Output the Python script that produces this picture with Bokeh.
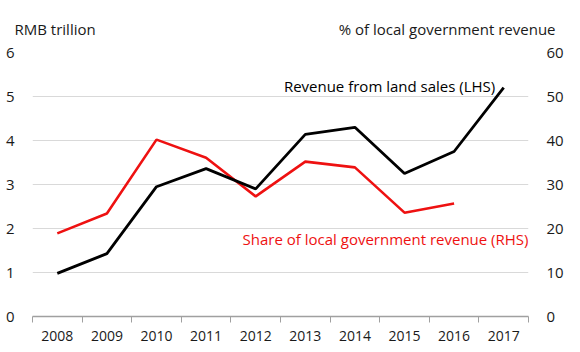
from bokeh.plotting import figure
from bokeh.models import Range1d, LinearAxis, FixedTicker, Label
from bokeh.layouts import column, row
from bokeh.embed import file_html
from bokeh.resources import INLINE

years = ["2008", "2009", "2010", "2011", "2012", "2013", "2014", "2015", "2016", "2017"]
land_revenue = [0.98, 1.43, 2.95, 3.36, 2.9, 4.14, 4.3, 3.25, 3.75, 5.2]
share_years = ["2008", "2009", "2010", "2011", "2012", "2013", "2014", "2015", "2016"]
share_revenue = [18.9, 23.4, 40.2, 36.1, 27.3, 35.2, 33.9, 23.6, 25.7]
lhs_ticks = [0, 1, 2, 3, 4, 5, 6]
rhs_ticks = [0, 10, 20, 30, 40, 50, 60]

FONT = "Open Sans"
TXT = "#1a1a1a"

pos = {y: i + 0.5 for i, y in enumerate(years)}
x_land = [pos[y] for y in years]
x_share = [pos[y] for y in share_years]

# header strip with the two axis unit captions (full-width frame, data x = screen px)
hdr = figure(width=580, height=40, output_backend="svg", toolbar_location=None,
             x_range=Range1d(0, 580), y_range=Range1d(0, 40),
             x_axis_location=None, y_axis_location=None,
             min_border_left=0, min_border_right=0, min_border_top=0, min_border_bottom=0)
hdr.outline_line_color = None
hdr.xgrid.visible = False
hdr.ygrid.visible = False
hdr.add_layout(Label(x=14, y=12, text="RMB trillion", text_align="left", text_baseline="middle",
                     text_font=FONT, text_font_size="15px", text_color=TXT))
hdr.add_layout(Label(x=555, y=12, text="% of local government revenue", text_align="right",
                     text_baseline="middle", text_font=FONT, text_font_size="15px", text_color=TXT))

p = figure(width=580, height=312, output_backend="svg", toolbar_location=None,
           x_range=Range1d(0, len(years)), y_range=Range1d(0, 6),
           min_border_left=32, min_border_right=52, min_border_top=12, min_border_bottom=36)
p.extra_y_ranges = {"rhs": Range1d(0, 60)}
p.outline_line_color = None
p.background_fill_color = "white"
p.border_fill_color = "white"

p.xaxis.ticker = FixedTicker(ticks=x_land, minor_ticks=list(range(len(years) + 1)))
p.xaxis.major_label_overrides = {pos[y]: y for y in years}
p.xaxis.major_tick_out = 0
p.xaxis.major_tick_in = 0
p.xaxis.minor_tick_out = 6
p.xaxis.minor_tick_in = 0
p.xaxis.minor_tick_line_color = "#a0a0a0"
p.xaxis.axis_line_color = "#a0a0a0"
p.xaxis.axis_line_width = 1.5
p.xaxis.major_label_text_font = FONT
p.xaxis.major_label_text_font_size = "14px"
p.xaxis.major_label_text_color = TXT
p.xaxis.major_label_standoff = 8
p.xgrid.visible = False

p.yaxis.ticker = FixedTicker(ticks=lhs_ticks)
p.yaxis.axis_line_color = None
p.yaxis.major_tick_line_color = None
p.yaxis.minor_tick_line_color = None
p.yaxis.major_label_text_font = FONT
p.yaxis.major_label_text_font_size = "15px"
p.yaxis.major_label_text_color = TXT
p.yaxis.major_label_standoff = 12
p.ygrid.ticker = FixedTicker(ticks=lhs_ticks[1:])
p.ygrid.grid_line_color = "#d9d9d9"
p.ygrid.grid_line_width = 1

rax = LinearAxis(y_range_name="rhs", ticker=FixedTicker(ticks=rhs_ticks))
rax.axis_line_color = None
rax.major_tick_line_color = None
rax.minor_tick_line_color = None
rax.major_label_text_font = FONT
rax.major_label_text_font_size = "15px"
rax.major_label_text_color = TXT
rax.major_label_standoff = 12
p.add_layout(rax, "right")

p.line(x_share, share_revenue, y_range_name="rhs", line_color="#ee1111", line_width=2.6)
p.line(x_land, land_revenue, line_color="#000000", line_width=2.8)

def lab(x, y, t, align, color):
    p.add_layout(Label(x=x, y=y, text=t, text_align=align, text_baseline="middle",
                       text_font=FONT, text_font_size="15px", text_color=color))

lab(9.33, 5.25, "Revenue from land sales (LHS)", "right", "#000000")
lab(10.0, 1.77, "Share of local government revenue (RHS)", "right", "#ee1111")

layout = column(row(hdr, spacing=0), p, spacing=0)
open("out.html", "w").write(file_html(layout, INLINE))
